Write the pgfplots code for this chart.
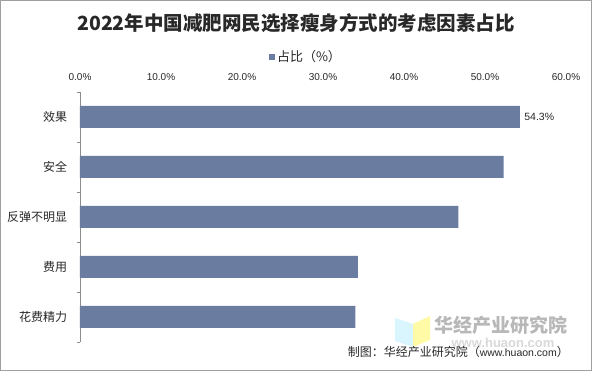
\documentclass[border=0pt]{standalone}
\usepackage{pgfplots}
\pgfplotsset{compat=1.18}
\usepackage{fontspec}
\setmainfont{Liberation Sans}
\newfontfamily\cjk{Noto Sans CJK SC}
\definecolor{barc}{RGB}{106,125,160}
\definecolor{txt}{RGB}{40,40,40}
\begin{document}
\begin{tikzpicture}
\path[use as bounding box] (0pt,0pt) rectangle (592pt,371pt);
\fill[white] (0pt,0pt) rectangle (592pt,371pt);
\draw[gray!75, line width=1.2pt] (0.6pt,0.6pt) rectangle (591.4pt,370.4pt);
% watermark logo
\fill[blue!25!cyan!15] (395pt,53pt) -- (413pt,47pt) -- (413pt,24pt) -- (395pt,30pt) -- cycle;
\fill[yellow!35] (413pt,47pt) -- (430pt,55pt) -- (430pt,31pt) -- (413pt,24pt) -- cycle;
\node[font=\cjk\bfseries\fontsize{19}{19}\selectfont, text=black!28] at (501pt,46pt) {华经产业研究院};
\node[font=\bfseries\fontsize{13}{13}\selectfont, text=black!15] at (503pt,28pt) {www.huaon.com};
% title
\node[font=\cjk\bfseries\fontsize{19.5}{19.5}\selectfont, text=txt] at (296pt,348pt) {2022年中国减肥网民选择瘦身方式的考虑因素占比};
% source
\node[anchor=east, text=txt, inner sep=0pt] at (569pt,19pt) {{\cjk\fontsize{12}{12}\selectfont 制图：华经产业研究院（}{\fontsize{10.5}{10.5}\selectfont www.huaon.com}{\cjk\fontsize{12}{12}\selectfont ）}};
\begin{axis}[
  at={(80pt,29pt)}, anchor=south west,
  scale only axis, width=486pt, height=250pt,
  xmin=0, xmax=60, ymin=-0.5, ymax=4.5,
  axis y line*=left, axis x line*=top,
  x axis line style={draw=none},
  y axis line style={-, draw=black!45},
  xtick={0,10,...,60},
  major x tick style={draw=none},
  /pgf/number format/assume math mode=true,
  xticklabel={\pgfmathprintnumber[fixed,fixed zerofill,precision=1]{\tick}\%},
  xticklabel style={font=\fontsize{10}{10}\selectfont, text=txt, yshift=4pt},
  ytick={0,1,2,3,4},
  yticklabels={花费精力,费用,反弹不明显,安全,效果},
  yticklabel style={font=\cjk\fontsize{12}{12}\selectfont, text=txt, xshift=-5pt},
  major y tick style={draw=none},
  minor ytick={-0.5,0.5,1.5,2.5,3.5,4.5},
  minor y tick style={draw=black!45},
  minor tick length=3pt,
  tick align=outside,
  legend style={at={(axis description cs:0.465,1)}, anchor=center, yshift=35pt,
    draw=none, fill=none, font=\cjk\fontsize{13}{13}\selectfont, text=txt,
    legend cell align=left},
  legend image code/.code={\fill[barc] (0pt,-3pt) rectangle (6pt,3pt);},
]
\addplot[xbar, bar width=22pt, bar shift=0pt, fill=barc, draw=none]
  coordinates {(34.0,0) (34.3,1) (46.7,2) (52.3,3) (54.3,4)};
\addlegendentry{占比（\%）}
\addplot[xbar, bar width=22pt, bar shift=0pt, fill=none, draw=none, forget plot,
  point meta=x,
  nodes near coords={\pgfmathprintnumber[fixed,fixed zerofill,precision=1]{\pgfplotspointmeta}\%},
  every node near coord/.append style={font=\fontsize{10.5}{10.5}\selectfont, text=txt, anchor=west, xshift=1pt}]
  coordinates {(54.3,4)};
\end{axis}
\end{tikzpicture}
\end{document}
